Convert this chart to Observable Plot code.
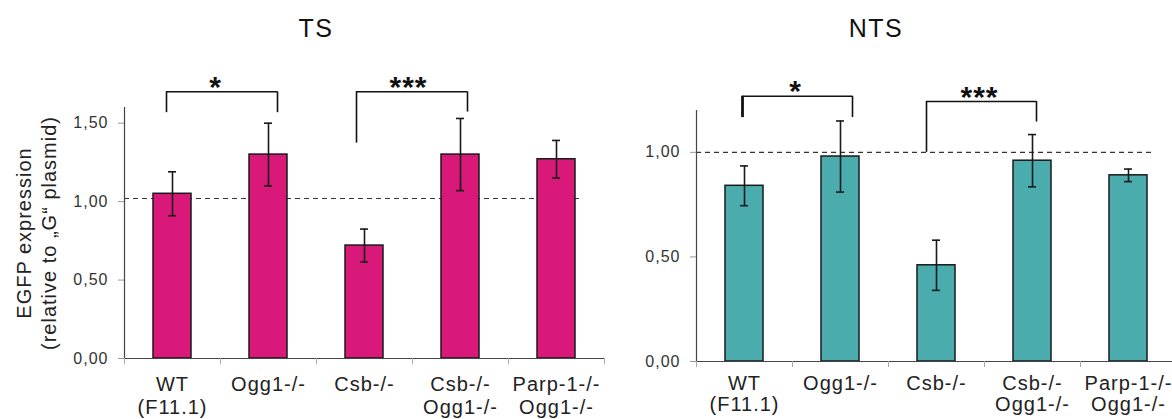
<!DOCTYPE html>
<html>
<head>
<meta charset="utf-8">
<script src="https://cdn.jsdelivr.net/npm/d3@7"></script>
<script src="https://cdn.jsdelivr.net/npm/@observablehq/plot@0.6"></script>
<style>
  html, body { margin: 0; padding: 0; background: #fff; overflow: hidden; }
  #chart { position: relative; width: 1172px; height: 419px; overflow: hidden;
           font-family: "Liberation Sans", Arial, sans-serif; }
  .panel { position: absolute; top: 0; }
  .title { position: absolute; top: 16px; font-size: 25px; line-height: 1; letter-spacing: 1.5px;
           transform: translateX(-50%); color: #111; white-space: nowrap; }
</style>
</head>
<body>
<div id="chart"></div>
<script>
// Cell lines (x categories); "\n" splits a label over two lines
const categories = ["WT\n(F11.1)", "Ogg1-/-", "Csb-/-", "Csb-/-\nOgg1-/-", "Parp-1-/-\nOgg1-/-"];

// Transcribed strand (TS): mean EGFP expression and error
const tsMean = [1.05, 1.30, 0.72, 1.30, 1.27];
const tsError = [0.14, 0.20, 0.105, 0.23, 0.12];

// Non-transcribed strand (NTS): mean EGFP expression and error
const ntsMean = [0.84, 0.98, 0.46, 0.96, 0.89];
const ntsError = [0.095, 0.17, 0.12, 0.125, 0.03];

// Y-axis ticks and reference levels
const tsTicks = [0, 0.5, 1, 1.5];
const ntsTicks = [0, 0.5, 1];
const tsReference = 1.02;
const ntsReference = 1.0;

// Significance brackets: compared categories, bracket top and leg ends (in y units)
const tsBracketFrom = [0, 2];
const tsBracketTo = [1, 3];
const tsBracketTop = [1.70, 1.70];
const tsBracketLeftEnd = [1.567, 1.373];
const tsBracketRightEnd = [1.567, 1.571];
const tsBracketLabel = ["*", "***"];

const ntsBracketFrom = [0, 2];
const ntsBracketTo = [1, 3];
const ntsBracketTop = [1.268, 1.243];
const ntsBracketLeftEnd = [1.166, 1.0];
const ntsBracketRightEnd = [1.166, 1.145];
const ntsBracketLabel = ["*", "***"];

const fmt = d => d.toFixed(2).replace(".", ",");

function rows(mean, err) {
  return categories.map((cat, i) => ({cat, mean: mean[i], lo: mean[i] - err[i], hi: mean[i] + err[i]}));
}

function bracketRows(from, to, top, leftEnd, rightEnd, label) {
  return from.map((f, i) => ({a: categories[f], b: categories[to[i]], top: top[i],
    leftEnd: leftEnd[i], rightEnd: rightEnd[i], label: label[i]}));
}

function panel(cfg) {
  const {data, color, domain, ticks, reference, brackets, bracketLook, width,
         marginLeft, marginRight, marginTop, marginBottom, yLabel, labelDy, labelLineHeight} = cfg;
  const height = 419;
  const step = (width - marginLeft - marginRight) / categories.length;
  const half = step / 2;
  const plotH = height - marginTop - marginBottom;
  const barInset = (step - 38) / 2;
  const capInset = (step - 8) / 2;
  const ink = "#1a1a1a";

  const marks = [
    // reference level
    Plot.ruleY([reference], {stroke: "#333", strokeWidth: 1.2, strokeDasharray: "5,4", insetRight: 22}),
    // bars
    Plot.barY(data, {x: "cat", y: "mean", fill: color, stroke: ink, strokeWidth: 1.5,
      insetLeft: barInset, insetRight: barInset}),
    // error bars
    Plot.ruleX(data, {x: "cat", y1: "lo", y2: "hi", stroke: ink, strokeWidth: 1.6}),
    Plot.tickY(data, {x: "cat", y: "lo", stroke: ink, strokeWidth: 1.6, insetLeft: capInset, insetRight: capInset}),
    Plot.tickY(data, {x: "cat", y: "hi", stroke: ink, strokeWidth: 1.6, insetLeft: capInset, insetRight: capInset}),
    // axis lines
    Plot.ruleY([0], {stroke: "#444", strokeWidth: 1.2}),
    Plot.ruleX([categories[0]], {dx: -half, stroke: "#444", strokeWidth: 1.2}),
    // category boundary ticks below the x axis
    Plot.ruleX(categories, {dx: -half, insetTop: plotH, insetBottom: -6, stroke: "#aaa"}),
    Plot.ruleX([categories[categories.length - 1]], {dx: half, insetTop: plotH, insetBottom: -6, stroke: "#aaa"}),
    // category labels
    Plot.text(categories, {x: d => d, text: d => d, frameAnchor: "bottom", lineAnchor: "top",
      dy: labelDy, fontSize: 20, lineHeight: labelLineHeight, fill: "#222"}),
    // y axis
    Plot.axisY({ticks, tickFormat: fmt, tickSize: 6, tickPadding: 10, fontSize: 16,
      stroke: "#999", fill: "#333", label: null})
  ];

  brackets.forEach((b, i) => {
    const look = bracketLook[i];
    marks.push(
      Plot.ruleX([b], {x: "a", y1: "leftEnd", y2: "top", dx: look.left, stroke: "#111", strokeWidth: look.leftWidth}),
      Plot.ruleX([b], {x: "b", y1: "rightEnd", y2: "top", dx: look.right, stroke: "#111", strokeWidth: 1.6}),
      Plot.ruleY([b], {x1: "a", x2: "b", y: "top", stroke: "#111", strokeWidth: 1.6,
        insetLeft: half + look.left, insetRight: half - look.right}),
      Plot.text([b], {x: "a", y: "top", text: "label", dx: look.star, dy: 5, lineAnchor: "bottom",
        fontSize: 30, fontWeight: "bold", fill: "#111"})
    );
  });

  if (yLabel) {
    marks.push(Plot.text([yLabel], {frameAnchor: "left", text: d => d, rotate: -90, lineAnchor: "bottom",
      textAnchor: "middle", dx: -69, fontSize: 20, lineHeight: 1.25, fill: "#222"}));
  }

  return Plot.plot({
    width, height, marginLeft, marginRight, marginTop, marginBottom,
    x: {domain: categories, padding: 0, axis: null},
    y: {domain, axis: null},
    style: {fontFamily: "'Liberation Sans', Arial, sans-serif", letterSpacing: "1px", background: "transparent", overflow: "visible"},
    marks
  });
}

const chart = document.getElementById("chart");

const ts = panel({
  data: rows(tsMean, tsError), color: "#d8197a", domain: [0, 1.6], ticks: tsTicks,
  reference: tsReference,
  brackets: bracketRows(tsBracketFrom, tsBracketTo, tsBracketTop, tsBracketLeftEnd, tsBracketRightEnd, tsBracketLabel),
  bracketLook: [{left: -6, right: 9, star: 43, leftWidth: 1.6}, {left: -8, right: 7, star: 44, leftWidth: 1.6}],
  width: 610, marginLeft: 124, marginRight: 6, marginTop: 107, marginBottom: 61,
  yLabel: "EGFP expression\n(relative to \u201EG\u201C plasmid)",
  labelDy: 16, labelLineHeight: 1.15
});
ts.classList.add("panel");
ts.style.left = "0px";
chart.appendChild(ts);

const nts = panel({
  data: rows(ntsMean, ntsError), color: "#4aacad", domain: [0, 1.2], ticks: ntsTicks,
  reference: ntsReference,
  brackets: bracketRows(ntsBracketFrom, ntsBracketTo, ntsBracketTop, ntsBracketLeftEnd, ntsBracketRightEnd, ntsBracketLabel),
  bracketLook: [{left: -2, right: 12, star: 51, leftWidth: 2.8}, {left: -10, right: 4, star: 43, leftWidth: 1.6}],
  width: 566, marginLeft: 86, marginRight: 0, marginTop: 110, marginBottom: 58,
  yLabel: null,
  labelDy: 14, labelLineHeight: 1.05
});
nts.classList.add("panel");
nts.style.left = "610px";
chart.appendChild(nts);

for (const [text, x] of [["TS", 316], ["NTS", 876]]) {
  const t = document.createElement("div");
  t.className = "title";
  t.style.left = x + "px";
  t.textContent = text;
  chart.appendChild(t);
}
</script>
</body>
</html>
